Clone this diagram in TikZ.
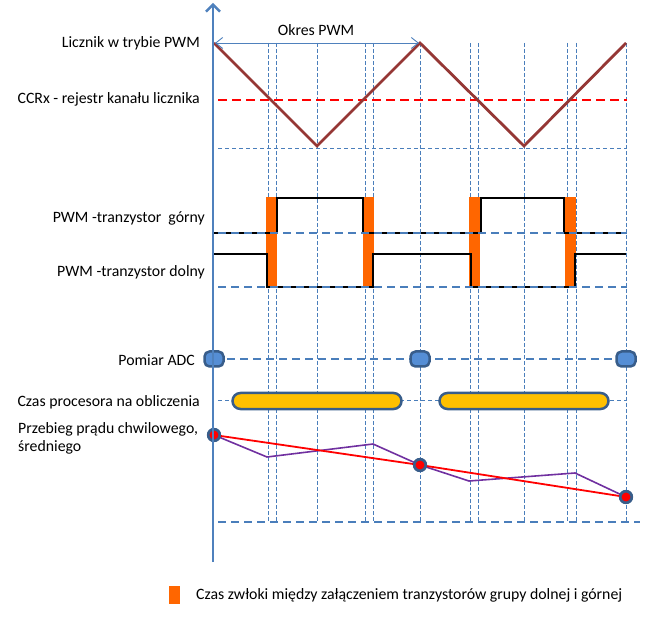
\documentclass[tikz,border=0pt]{standalone}
\usepackage{fontspec}
\setmainfont{Carlito}
\usetikzlibrary{arrows.meta}
\definecolor{axblue}{HTML}{4F81BD}
\definecolor{gridblue}{HTML}{4A7EBB}
\definecolor{tri}{HTML}{953735}
\definecolor{dkblue}{HTML}{385D8A}
\definecolor{adcfill}{HTML}{558ED5}
\definecolor{procfill}{HTML}{FFC000}
\definecolor{delay}{HTML}{FF6600}
\definecolor{purp}{HTML}{7030A0}
\begin{document}
\begin{tikzpicture}[x=1pt,y=-1pt,
  lbl/.style={font=\fontsize{15.8pt}{19pt}\selectfont, inner sep=0pt},
  gridv/.style={gridblue, line width=0.9pt, dash pattern=on 4pt off 2pt},
  gridh/.style={gridblue, line width=0.9pt, dash pattern=on 4pt off 3pt},
  thickdash/.style={gridblue, line width=2pt, dash pattern=on 8pt off 5pt},
  pwm/.style={black, line width=2.8pt},
  delaybar/.style={fill=delay, draw=none},
  adc/.style={draw=dkblue, fill=adcfill, line width=2.5pt, rounded corners=5pt, minimum width=19pt, minimum height=15pt, inner sep=0pt},
  proc/.style={draw=dkblue, fill=procfill, line width=2.5pt, rounded corners=8pt, minimum width=169pt, minimum height=16pt, inner sep=0pt},
  dot/.style={circle, draw=dkblue, fill=red, line width=2.6pt, minimum size=11.5pt, inner sep=0pt},
]
\useasboundingbox (0,0) rectangle (667,628);

% vertical grid lines
\foreach \x in {268,276,317,365,373,420,470,478,524,567,576,626}
  \draw[gridv] (\x,43) -- (\x,522);

% horizontal thin dashed lines
\draw[gridh] (218,148) -- (627,148);
\draw[gridh] (218,400) -- (627,400);

% CCRx red dashed
\draw[red, line width=2.5pt, dash pattern=on 9pt off 5pt] (218,100) -- (627,100);

% triangle counter
\coordinate (t0) at (214,43);
\coordinate (t1) at (317,146);
\coordinate (t2) at (420,43);
\coordinate (t3) at (524,146);
\coordinate (t4) at (626,43);
\draw[tri, line width=2.8pt, line join=miter] (t0) -- (t1) -- (t2) -- (t3) -- (t4);

% Okres PWM arrow
\coordinate (pa) at (215,43);
\coordinate (pb) at (419,43);
\draw[axblue, line width=0.9pt, {Straight Barb[length=7pt,width=11pt]}-{Straight Barb[length=7pt,width=11pt]}] (pa) -- (pb);
\node[lbl] (okres) at (316,30) {Okres PWM};

% delay bars
\foreach \a/\b in {266/277,363/374,469/480,565/576}
  \fill[delaybar] (\a,197) rectangle (\b,288);

% PWM upper
\draw[pwm, line join=miter] (214,233) -- (277,233) -- (277,198) -- (363,198) -- (363,233) -- (481,233) -- (481,198) -- (564,198) -- (564,233) -- (626,233);
% PWM lower
\draw[pwm, line join=miter] (214,254) -- (267,254) -- (267,287) -- (373,287) -- (373,254) -- (471,254) -- (471,287) -- (575,287) -- (575,254) -- (626,254);

\draw[thickdash] (218,233) -- (627,233);
\draw[thickdash] (218,287) -- (627,287);

% ADC
\draw[thickdash] (227,359) -- (627,359);
\node[adc] (adc1) at (214,359) {};
\node[adc] (adc2) at (420,359) {};
\node[adc] (adc3) at (626,359) {};

% processor time
\node[proc] (p1) at (317,401) {};
\node[proc] (p2) at (524,401) {};

% bottom dashed
\draw[thickdash] (218,522) -- (640,522);

% currents
\coordinate (c1) at (267,457);
\coordinate (c2) at (373,444);
\coordinate (c3) at (469,481);
\coordinate (c4) at (575,473);
\node[dot] (d1) at (214,435) {};
\node[dot] (d2) at (420,465) {};
\node[dot] (d3) at (626,497) {};
\draw[purp, line width=1.6pt] (d1.center) -- (c1) -- (c2) -- (d2.center) -- (c3) -- (c4) -- (d3.center);
\draw[red, line width=1.8pt] (d1.center) -- (d2.center) -- (d3.center);
\node[dot] at (d1) {};
\node[dot] at (d2) {};
\node[dot] at (d3) {};

% axis
\coordinate (ax0) at (213,562);
\coordinate (ax1) at (213,3);
\draw[axblue, line width=2.4pt, -{Straight Barb[length=7pt,width=14pt]}] (ax0) -- (ax1);

% labels
\node[lbl, anchor=east] (l1) at (200,43) {Licznik w trybie PWM};
\node[lbl, anchor=east] (l2) at (200,99) {CCRx - rejestr kanału licznika};
\node[lbl, anchor=east] (l3) at (205,218) {PWM -tranzystor\ \ górny};
\node[lbl, anchor=east] (l4) at (205,272) {PWM -tranzystor dolny};
\node[lbl, anchor=east] (l5) at (195,360) {Pomiar ADC};
\node[lbl, anchor=east] (l6) at (200,402) {Czas procesora na obliczenia};
\node[lbl, anchor=north west, align=left, inner sep=0pt] (l7) at (18,422) {Przebieg prądu chwilowego,\\[-1pt]średniego};

% legend
\fill[delay] (169,586) rectangle (180,604);
\node[lbl, anchor=west] (leg) at (196,595) {Czas zwłoki między załączeniem tranzystorów grupy dolnej i górnej};
\end{tikzpicture}
\end{document}
